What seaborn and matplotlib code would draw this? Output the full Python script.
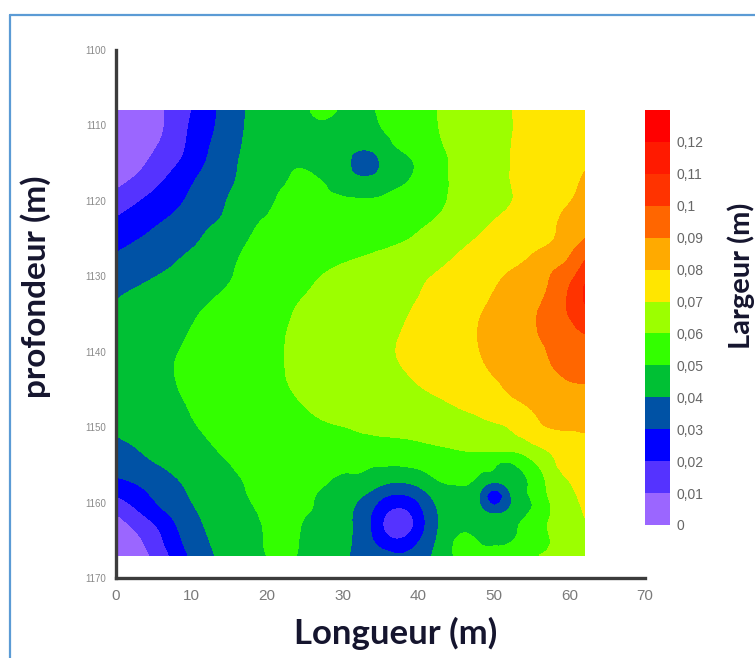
import numpy as np
import matplotlib
matplotlib.use("Agg")
import matplotlib.pyplot as plt
import matplotlib.tri as mtri
from matplotlib.colors import ListedColormap, BoundaryNorm
from matplotlib.lines import Line2D
import seaborn as sns

# ---------------- data ----------------
# grid positions
longueur = [0, 3, 6, 9, 12, 15, 18, 21, 24, 27, 30, 33, 35, 37, 40, 43, 46, 48, 50, 52, 55, 58, 60, 62]
profondeur = [1108, 1111, 1113, 1115, 1117, 1120, 1123, 1126, 1129, 1132, 1135, 1138,
              1141, 1144, 1147, 1150, 1153, 1155, 1157, 1159, 1161, 1163, 1165, 1167]

# largeur (in mm) along each depth row, one value per longueur position
row_1108 = [0, 4, 9, 17, 26, 35, 41.5, 45, 48, 51, 49, 47.5, 51.5, 54, 57, 60.5, 63.7, 65.8, 68, 69.6, 72.5, 75, 76.5, 78]
row_1111 = [1, 5, 9.5, 18.5, 27.5, 35.5, 42, 45, 47, 48, 46.5, 45.5, 49, 51.5, 56, 60.2, 63.5, 65.5, 67.5, 69.5, 72.5, 75.5, 77, 78.5]
row_1113 = [2.5, 6, 11.5, 19.5, 29, 36.5, 42.5, 45, 46.5, 46, 44.5, 41, 44.5, 49.5, 54.5, 59.3, 62.8, 65, 67.3, 69.7, 73, 76, 77.5, 79]
row_1115 = [4, 8, 14.5, 22, 30.5, 37.5, 43, 45.5, 49, 47, 44, 34, 40.5, 45, 51.5, 58.5, 62, 64.5, 67, 69.7, 73.5, 77, 78.5, 79.7]
row_1117 = [6.5, 11.5, 18.5, 26, 33, 38.5, 43.5, 47.5, 50.8, 49.8, 45.5, 41, 43.5, 47, 52, 58.5, 62, 64.5, 67, 69.8, 74, 77, 78.8, 80.3]
row_1120 = [14, 19.5, 25, 30, 35.5, 40.5, 44.5, 49.9, 51.5, 51.5, 51, 50.5, 51, 52, 54, 59, 62, 64.5, 67, 69.5, 73, 77.5, 79.7, 82.5]
row_1123 = [22, 26, 30.2, 34, 38.8, 42.5, 48.5, 52, 53, 53.5, 53.5, 54, 54.5, 55.5, 58.5, 61.5, 65, 67.5, 70.5, 72.5, 76, 79.3, 83, 86]
row_1126 = [28.5, 31.5, 35, 38.5, 42, 47, 51, 53.5, 55, 56, 57, 58, 59, 60.2, 62.5, 65.5, 69.5, 72, 74, 75.5, 78.5, 81.5, 87, 93]
row_1129 = [33.5, 36, 39, 42, 45, 49, 52.5, 55, 57, 59, 60.8, 62.5, 63.8, 65, 67.5, 70, 73.5, 75.5, 77.5, 79.5, 83, 89.5, 94, 104]
row_1132 = [38.5, 41, 43.5, 45.5, 48, 51, 54, 56.8, 59, 61.2, 63.5, 65.5, 67, 68, 69.7, 72.5, 75.5, 77.5, 80, 82.5, 86.5, 93, 101, 111]
row_1135 = [41.5, 43.5, 45.5, 48, 51, 54, 56.5, 58.2, 60.5, 62.5, 64.5, 66.5, 68, 69, 71, 74, 77, 79.5, 82, 84.5, 88.5, 95.5, 100.5, 107]
row_1138 = [43.5, 45, 47, 49.7, 52.5, 55, 57, 59, 61, 63, 65, 67, 68.5, 69.7, 72, 74.5, 77.5, 80.2, 82.5, 84.5, 88.5, 93, 96.5, 99]
row_1141 = [44.5, 46, 48.5, 50.8, 53, 55, 57, 59.2, 61, 63, 65, 67, 68.3, 69.8, 72, 74.5, 77, 79.3, 81.8, 83.5, 86.5, 91, 93.5, 95.5]
row_1144 = [44.5, 46.5, 48.5, 50.7, 52.5, 54.5, 56.5, 58.8, 60.8, 62.5, 64, 65.5, 66.8, 68, 70.3, 72.5, 75, 77, 79.3, 81.3, 84.5, 87.8, 89.8, 90.3]
row_1147 = [44, 46, 48, 49.8, 52, 54, 56, 57.8, 59.6, 61.2, 62.5, 63.8, 64.8, 65.8, 67.5, 69, 71.2, 73, 75, 77.5, 81, 84, 85.5, 86.8]
row_1150 = [41.5, 43.5, 45.5, 48, 51, 53, 55, 56.5, 58, 59.2, 59.9, 61, 61.8, 62.5, 63.8, 65.3, 66.8, 67.8, 69, 70.2, 76, 80.6, 80.9, 81.2]
row_1153 = [37.5, 40, 42.5, 45, 48.5, 51.5, 53.5, 55, 56, 56.5, 56.5, 56, 56, 56, 57, 58.5, 60.5, 61, 61.2, 61.5, 66, 72, 75.5, 78]
row_1155 = [34.5, 37.5, 40.3, 43.5, 46.5, 49.8, 52, 53.5, 54.5, 54, 52.5, 51, 50.5, 50.3, 51.5, 53, 54, 53, 51, 48.5, 57, 69, 73, 76.5]
row_1157 = [28.5, 32, 36.5, 41, 45, 48.5, 51, 53, 53, 51.5, 48.5, 47.5, 44, 42, 44.5, 50.5, 51, 48, 43, 45, 51.5, 66, 70.2, 74.5]
row_1159 = [20.5, 26.5, 33.5, 39, 44, 47.5, 50.5, 52, 51.5, 49.5, 46, 39.5, 33, 29.5, 34, 45, 48, 41, 26, 38, 51, 64, 68.5, 72.5]
row_1161 = [12, 20.3, 29, 36.5, 42.5, 46.5, 49.5, 51.5, 51, 49, 44, 34, 25, 18.5, 26.5, 42, 47, 43, 36, 41, 50.5, 61.5, 66.5, 70.8]
row_1163 = [5, 13.5, 22.5, 33.5, 40.8, 45.5, 48.8, 51, 50.5, 47, 43.5, 33, 22, 13, 24, 41.5, 48, 47, 46, 47, 54.5, 62, 65.5, 69.3]
row_1165 = [1, 8.5, 19, 31, 39.3, 44.5, 48.5, 51, 50.2, 46.5, 43, 34, 26, 21, 29, 43, 52, 49.5, 49, 49.5, 54, 61, 64.5, 68]
row_1167 = [0, 6, 15.5, 28, 37.5, 44, 48.3, 50.6, 49.9, 46.5, 42, 36, 34, 31, 35, 44, 53, 52.5, 52, 52.5, 58, 62.5, 64.5, 67]

# colour classes of the legend (Largeur, m)
levels = [0, 0.01, 0.02, 0.03, 0.04, 0.05, 0.06, 0.07, 0.08, 0.09, 0.10, 0.11, 0.12, 0.13]
level_colors = ['#9b66ff', '#5533ff', '#0000ff', '#0052a5', '#00c034', '#33ff00', '#9cff00',
                '#ffe600', '#ffaa00', '#ff6600', '#ff3300', '#ff1a00', '#ff0000']
cbar_ticks = [0, 0.01, 0.02, 0.03, 0.04, 0.05, 0.06, 0.07, 0.08, 0.09, 0.10, 0.11, 0.12]
cbar_labels = ['0', '0,01', '0,02', '0,03', '0,04', '0,05', '0,06', '0,07', '0,08', '0,09', '0,1', '0,11', '0,12']
x_ticks = [0, 10, 20, 30, 40, 50, 60, 70]
y_ticks = [1100, 1110, 1120, 1130, 1140, 1150, 1160, 1170]

# ---------------- figure ----------------
sns.set_style("white")
plt.rcParams['font.family'] = ['Liberation Sans', 'DejaVu Sans']

rows = [row_1108, row_1111, row_1113, row_1115, row_1117, row_1120, row_1123, row_1126,
        row_1129, row_1132, row_1135, row_1138, row_1141, row_1144, row_1147, row_1150,
        row_1153, row_1155, row_1157, row_1159, row_1161, row_1163, row_1165, row_1167]
Z = np.array(rows, dtype=float) / 1000.0
GX, GY = np.meshgrid(longueur, profondeur)

W, H = 755, 658
fig = plt.figure(figsize=(W / 100, H / 100), dpi=100)
fig.patch.set_facecolor('white')

ax = fig.add_axes([116 / W, 1 - 578 / H, (645 - 116) / W, (578 - 50) / H])
cmap = ListedColormap(level_colors)
cmap.set_under(level_colors[0])
cmap.set_over(level_colors[-1])
norm = BoundaryNorm(levels, cmap.N)

# smooth rendering of the gridded field with matplotlib's triangulation tools
triang = mtri.Triangulation(GX.ravel(), GY.ravel())
interp = mtri.CubicTriInterpolator(triang, Z.ravel(), kind='min_E')
refiner = mtri.UniformTriRefiner(triang)
tri_f, z_f = refiner.refine_field(Z.ravel(), triinterpolator=interp, subdiv=3)
cs = ax.tricontourf(tri_f, z_f, levels=levels, cmap=cmap, norm=norm, extend='both')

ax.set_xlim(0, 70)
ax.set_ylim(1170, 1100)
ax.set_xticks(x_ticks)
ax.set_yticks(y_ticks)
ax.tick_params(axis='x', length=0, pad=8, labelsize=11, labelcolor='#7a7a7a')
ax.tick_params(axis='y', length=0, pad=7, labelsize=7, labelcolor='#8a8a8a')
sns.despine(ax=ax)
for s in ['left', 'bottom']:
    ax.spines[s].set_linewidth(2.4)
    ax.spines[s].set_color('#3c3c3c')
ax.set_facecolor('white')

# colorbar (classes 0 .. 0.13)
cax = fig.add_axes([645 / W, 1 - 525 / H, 25 / W, (525 - 110) / H])
sm = plt.cm.ScalarMappable(cmap=ListedColormap(level_colors), norm=BoundaryNorm(levels, len(level_colors)))
cb = fig.colorbar(sm, cax=cax, ticks=cbar_ticks, boundaries=levels)
cb.outline.set_visible(False)
cb.ax.minorticks_off()
cb.ax.set_yticklabels(cbar_labels)
cb.ax.tick_params(length=0, pad=5, labelsize=10, labelcolor='#666666')

# labels
lab_color = '#15152e'
fig.text(396 / W, 1 - 644 / H, 'Longueur (m)', ha='center', va='baseline',
         fontsize=25, fontweight='bold', family=['Lato', 'DejaVu Sans'], color=lab_color)
fig.text(36 / W, 1 - 287 / H, 'profondeur (m)', ha='center', va='center', rotation=90,
         fontsize=24, fontweight='bold', family=['Lato', 'DejaVu Sans'], color=lab_color)
fig.text(741 / W, 1 - 276 / H, 'Largeur (m)', ha='center', va='center', rotation=90,
         fontsize=21, fontweight='bold', family=['Lato', 'DejaVu Sans'], color=lab_color)

# light blue frame (top and left edges)
fig.add_artist(Line2D([10 / W, 1], [1 - 15 / H, 1 - 15 / H], color='#5b9bd5', lw=1.6,
                      transform=fig.transFigure))
fig.add_artist(Line2D([10 / W, 10 / W], [0, 1 - 15 / H], color='#5b9bd5', lw=1.6,
                      transform=fig.transFigure))

fig.savefig('out.png', dpi=100, facecolor='white')
